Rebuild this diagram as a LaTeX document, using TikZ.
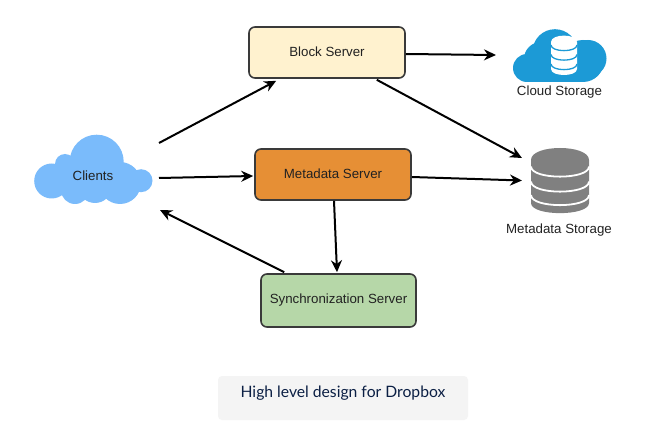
\documentclass[tikz,border=0pt]{standalone}
\usepackage{fontspec}
\setmainfont{Liberation Sans}
\newfontfamily\capfont{Lato}
\usetikzlibrary{arrows.meta}
\definecolor{cloudblue}{HTML}{7ABBFB}
\definecolor{storeblue}{HTML}{1C9AD6}
\definecolor{dbgray}{HTML}{808080}
\definecolor{capbg}{HTML}{F4F4F4}
\definecolor{capink}{HTML}{0B1F44}
\definecolor{labelink}{HTML}{222222}
\definecolor{boxedge}{HTML}{3A3A3A}
\definecolor{blockfill}{HTML}{FFF2CF}
\definecolor{metafill}{HTML}{E68F35}
\definecolor{syncfill}{HTML}{B6D7A8}
\tikzset{
  server/.style={draw=boxedge,line width=1.6pt,rounded corners=6pt,minimum width=156pt,minimum height=51pt,inner sep=0pt,text=labelink,font=\fontsize{13.3}{15}\selectfont},
  anchorbox/.style={inner sep=0pt,outer sep=0pt},
  lbl/.style={inner sep=0pt,text=labelink,font=\fontsize{13.3}{15}\selectfont},
  flow/.style={line width=2pt,black,-{Stealth[length=12pt,width=11pt]}}
}
\begin{document}
\begin{tikzpicture}[x=1pt,y=-1pt]
\useasboundingbox (0,0) rectangle (659,433);
\fill[white] (0,0) rectangle (659,433);
% clients cloud
\fill[cloudblue] (96.7,161.7) circle[radius=27pt] (51.7,181) circle[radius=17.5pt]
  (120,183) circle[radius=21pt] (141,180.7) circle[radius=11.5pt] (75,190) circle[radius=14pt]
  (95,186) circle[radius=17pt] (65,164) circle[radius=10pt] (70,178) circle[radius=18pt];
\node[anchorbox,minimum width=118pt,minimum height=72pt,text=labelink,font=\fontsize{13.3}{15}\selectfont] (clients) at (93,176) {\raisebox{-1pt}{Clients}};
% cloud storage
\fill[storeblue] (555,51.7) circle[radius=22.5pt] (527,68) circle[radius=14pt] (588,58.5) circle[radius=18.5pt]
  (541,59) circle[radius=17pt] (583,61) circle[radius=21pt] (527,62) rectangle (583,82);
\node[anchorbox,minimum width=94pt,minimum height=52pt] (cloud) at (560,56) {};
\fill[white] (551,42) .. controls (551,33.5) and (577,33.5) .. (577,42) -- (577,69) .. controls (577,77) and (551,77) .. (551,69) -- cycle;
\draw[storeblue,line width=1.3pt]
  (551,45) .. controls (551,52.5) and (577,52.5) .. (577,45)
  (551,54.5) .. controls (551,62) and (577,62) .. (577,54.5)
  (551,64) .. controls (551,71.5) and (577,71.5) .. (577,64);
\node[lbl] (cloudlabel) at (559.5,92) {Cloud Storage};
% metadata storage
\fill[dbgray] (531,160) .. controls (531,144) and (589,144) .. (589,160) -- (589,203) .. controls (589,216.5) and (531,216.5) .. (531,203) -- cycle;
\node[anchorbox,minimum width=58pt,minimum height=65pt] (mstore) at (560,180.5) {};
\draw[white,line width=1.8pt]
  (531,166.5) .. controls (531,180) and (589,180) .. (589,166.5)
  (531,181.5) .. controls (531,195) and (589,195) .. (589,181.5)
  (531,195) .. controls (531,208.5) and (589,208.5) .. (589,195);
\node[lbl] (mlabel) at (559,230.5) {Metadata Storage};
% servers
\node[server,fill=blockfill] (block) at (327,52.5) {\raisebox{1pt}{Block Server}};
\node[server,fill=metafill] (meta) at (333,174.5) {\raisebox{1pt}{Metadata Server}};
\node[server,fill=syncfill,minimum width=155pt,minimum height=53pt] (sync) at (338.5,300.5) {Synchronization Server};
% connectors
\draw[flow] ([xshift=7pt,yshift=33pt]clients.east) -- ([xshift=28pt,yshift=-2pt]block.south west);
\draw[flow] ([xshift=7pt,yshift=-2pt]clients.east) -- ([xshift=-1pt,yshift=-1.5pt]meta.west);
\draw[flow] ([xshift=24pt,yshift=1pt]sync.north west) -- ([xshift=8pt,yshift=-34pt]clients.east);
\draw[flow] ([yshift=-1.5pt]block.east) -- ([xshift=-17pt,yshift=1pt]cloud.west);
\draw[flow] ([xshift=-29pt,yshift=-1pt]block.south east) -- ([xshift=-9pt,yshift=22.5pt]mstore.west);
\draw[flow] ([yshift=-2.5pt]meta.east) -- ([xshift=-9pt]mstore.west);
\draw[flow] ([xshift=1pt]meta.south) -- ([xshift=-1.5pt,yshift=1pt]sync.north);
% caption
\fill[capbg,rounded corners=4pt] (218,376) rectangle (468,420);
\node[inner sep=0pt,text=capink,font=\capfont\fontsize{15.7}{18}\selectfont] (caption) at (343,393) {High level design for Dropbox};
\end{tikzpicture}
\end{document}
